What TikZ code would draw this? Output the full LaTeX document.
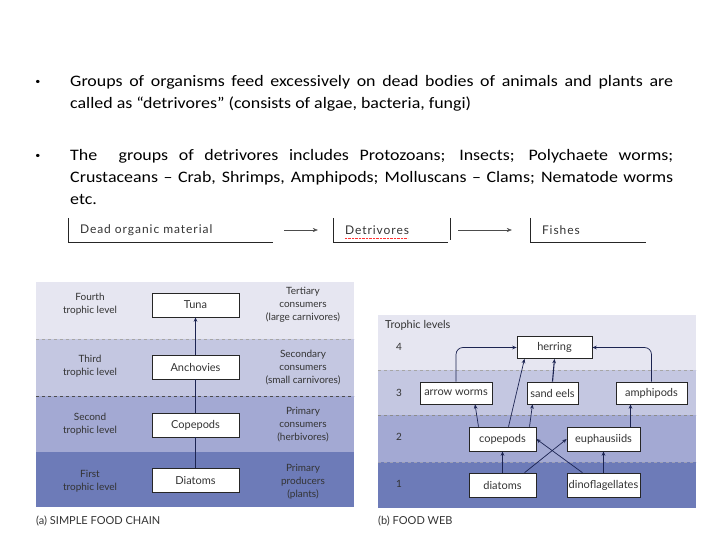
\documentclass[tikz,border=0pt]{standalone}
\usepackage{fontspec}
\setmainfont{Carlito}[FakeStretch=1.12]
\newfontfamily\figfont{Lato}
\newfontfamily\stripfont{Lato}[LetterSpace=8]
\usetikzlibrary{arrows.meta,calc}
\definecolor{bandA}{HTML}{E6E6F1}
\definecolor{bandB}{HTML}{C4C7E1}
\definecolor{bandC}{HTML}{A3A9D3}
\definecolor{bandD}{HTML}{6D7BB8}
\definecolor{txt}{HTML}{333333}
\definecolor{arrc}{HTML}{1C2452}
\begin{document}
\begin{tikzpicture}[x=1pt,y=-1pt,
    box/.style={draw=black!85,fill=white,line width=.6pt,inner sep=0,text=txt,
      font=\figfont\fontsize{11}{13}\selectfont},
    lbl/.style={align=center,text=txt,font=\figfont\fontsize{10}{13}\selectfont},
    figcaption/.style={anchor=west,inner sep=0,text=txt,font=\figfont\fontsize{11}{13}\selectfont},
    strip/.style={inner xsep=12pt,inner ysep=0,minimum height=24pt,align=left,
      text=txt,font=\stripfont\fontsize{12}{14}\selectfont},
    arr/.style={-{Stealth[length=4.5pt,width=3.6pt]},draw=arrc,line width=.7pt},
    body/.style={font=\fontsize{16}{22}\selectfont}]
    \useasboundingbox (0,0) rectangle (720,540);

    \node[body] (bone) at (38,82) {\small•};
    \node[body] (btwo) at (38,156) {\small•};
    \node[body,anchor=north west,text width=603pt,align=justify,inner sep=0] (pone) at (70,75)
      {Groups of organisms feed excessively on dead bodies of animals and plants are\linebreak
       called as “detrivores” (consists of algae, bacteria, fungi)};
    \node[body,anchor=north west,text width=603pt,align=justify,inner sep=0] (ptwo) at (70,149)
      {The\ \ groups of detrivores includes Protozoans; Insects; Polychaete worms;\linebreak
       Crustaceans -- Crab, Shrimps, Amphipods; Molluscans -- Clams; Nematode worms\linebreak
       etc.};

    \node[strip,text width=181pt] (dead) at (170.5,230) {Dead organic material};
    \node[strip,text width=91pt] (detr) at (390.5,230) {Detrivores};
    \node[strip,text width=92pt] (fish) at (588,230) {Fishes};
    \draw[black!85] (dead.north west) |- (dead.south east);
    \draw[black!85] (detr.north west) |- (detr.south east);
    \draw[black!85] ([xshift=2pt]detr.north east) -- ([xshift=2pt,yshift=2pt]detr.south east);
    \draw[black!85] (fish.north west) |- (fish.south east);
    \draw[red!80,densely dotted] ([xshift=12pt,yshift=4pt]detr.south west) -- ++(63,0);
    \draw[-{Stealth[length=5pt,width=4pt]},black!70,shorten <=11pt,shorten >=15pt] (dead.east) -- (detr.west);
    \draw[-{Stealth[length=5pt,width=4pt]},black!70,shorten <=10pt,shorten >=18pt] (detr.east) -- (fish.west);

    \fill[bandA] (36,282) rectangle (354,339);
    \fill[bandB] (36,339) rectangle (354,396);
    \fill[bandC] (36,396) rectangle (354,452);
    \fill[bandD] (36,452) rectangle (354,507);
    \draw[black!35,dashed] (36,339) -- (354,339);
    \draw[black!70,dashed] (36,396) -- (354,396);

    \node[box,minimum width=87pt,minimum height=24pt] (tuna) at (195.5,305) {Tuna};
    \node[box,minimum width=87pt,minimum height=24pt] (anch) at (195.5,367) {Anchovies};
    \node[box,minimum width=87pt,minimum height=24pt] (cope) at (195.5,425) {Copepods};
    \node[box,minimum width=87pt,minimum height=24pt] (diat) at (195.5,480.5) {Diatoms};
    \draw[arrc,line width=.7pt] (diat) -- (cope);
    \draw[arrc,line width=.7pt] (cope) -- (anch);
    \draw[arr] (anch) -- (tuna);

    \node[lbl] (lfour) at (90,304.5) {Fourth\\trophic level};
    \node[lbl] (lthree) at (90,366.5) {Third\\trophic level};
    \node[lbl] (ltwo) at (90,424.5) {Second\\trophic level};
    \node[lbl] (lone) at (90,481.5) {First\\trophic level};
    \node[lbl] (rfour) at (303,305) {Tertiary\\consumers\\(large carnivores)};
    \node[lbl] (rthree) at (303,367.5) {Secondary\\consumers\\(small carnivores)};
    \node[lbl] (rtwo) at (303,424.5) {Primary\\consumers\\(herbivores)};
    \node[lbl] (rone) at (303,481.5) {Primary\\producers\\(plants)};
    \node[figcaption] (capa) at (36,521) {(a) SIMPLE FOOD CHAIN};

    \fill[bandA] (378,315) rectangle (696,370);
    \fill[bandB] (378,370) rectangle (696,415);
    \fill[bandC] (378,415) rectangle (696,462);
    \fill[bandD] (378,462) rectangle (696,508);
    \draw[black!35,dashed] (378,370) -- (696,370);
    \draw[black!45,dashed] (378,415) -- (696,415);
    \draw[bandB!80!black,dashed] (378,462) -- (696,462);

    \node[figcaption] (tlev) at (385,325) {Trophic levels};
    \node[lbl] (nfour) at (399,347) {4};
    \node[lbl] (nthree) at (399,393) {3};
    \node[lbl] (ntwo) at (399,437) {2};
    \node[lbl] (none) at (399,484) {1};

    \node[box,minimum width=75pt,minimum height=22pt] (herr) at (554.5,347.5) {herring};
    \node[box,minimum width=72pt,minimum height=22pt] (awrm) at (456,393) {arrow worms};
    \node[box,minimum width=51pt,minimum height=22pt] (seel) at (552.5,393) {sand eels};
    \node[box,minimum width=71pt,minimum height=22pt] (amph) at (651.5,393) {amphipods};
    \node[box,minimum width=67pt,minimum height=24pt] (wcope) at (502.5,439) {copepods};
    \node[box,minimum width=73pt,minimum height=24pt] (euph) at (603.5,439) {euphausiids};
    \node[box,minimum width=67pt,minimum height=24pt] (wdiat) at (502.5,485) {diatoms};
    \node[box,minimum width=73pt,minimum height=24pt] (dino) at (603.5,485) {dinoflagellates};

    \draw[arr,rounded corners=7pt] (awrm.north) |- (herr.west);
    \draw[arr,rounded corners=7pt] (amph.north) |- (herr.east);
    \draw[arr,line width=1.1pt] (seel.north) -- (herr.south);
    \draw[arr] ([xshift=6pt]wcope.north) -- ([xshift=-30pt]herr.south);
    \draw[arr] ([xshift=-24pt]wcope.north) -- ([xshift=19pt]awrm.south);
    \draw[arr] ([xshift=27pt]wcope.north) -- ([xshift=-20pt]seel.south);
    \draw[arr] ([xshift=27pt]euph.north) -- ([xshift=-21pt]amph.south);
    \draw[arr] (wdiat.north) -- (wcope.south);
    \draw[arr] ([xshift=22pt]wdiat.north) -- (euph.west);
    \draw[arr] ([xshift=-21pt]dino.north) -- (wcope.east);
    \draw[arr] (dino.north) -- (euph.south);

    \node[figcaption] (capb) at (378,521) {(b) FOOD WEB};
\end{tikzpicture}
\end{document}
